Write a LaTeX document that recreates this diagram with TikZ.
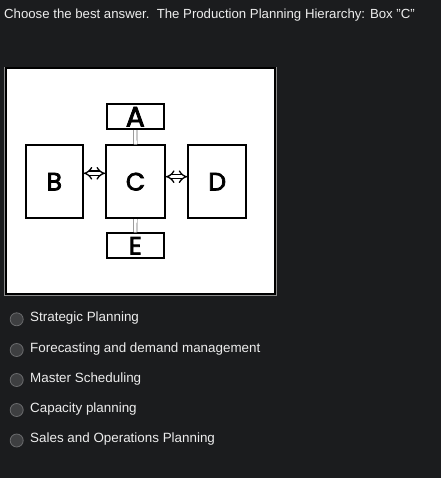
\documentclass[tikz,border=0pt]{standalone}
\usepackage{fontspec}
\setmainfont{Liberation Sans}
\newfontfamily\boxfont[FakeBold=3]{Poppins}
\usetikzlibrary{arrows.meta}
\definecolor{bgdark}{HTML}{1B1C1E}
\definecolor{txtlight}{HTML}{EDEDED}
\definecolor{radiofill}{HTML}{3E3F41}
\definecolor{radioline}{HTML}{6A6B6D}
\definecolor{framegray}{HTML}{8A8A8A}
\tikzset{
  x=1pt, y=-1pt,
  lbox/.style={draw=black, line width=1.7pt, fill=white, inner sep=0pt, font=\boxfont\fontsize{25}{25}\selectfont},
  dblarrow/.style={draw=black, line width=1.3pt, double=white, double distance=3pt, {Implies[length=4.5pt]}-{Implies[length=4.5pt]}},
  vlink/.style={draw=black!60, line width=0.7pt, double=white, double distance=2.6pt},
  radio/.style={circle, draw=radioline, fill=radiofill, line width=0.8pt, minimum size=13pt, inner sep=0pt},
  opt/.style={anchor=west, text=txtlight, font=\fontsize{13.4}{13.4}\selectfont, inner sep=0pt},
}
\begin{document}
\begin{tikzpicture}
\fill[bgdark] (0,0) rectangle (441,478);
\useasboundingbox (0,0) rectangle (441,478);
\node[opt, font=\fontsize{13.2}{13.2}\selectfont] (title) at (4,15) {Choose the best answer.\ \ The Production Planning Hierarchy: Box \char"22 C\char"22};
% frame
\draw[framegray, line width=0.6pt] (4.5,67.3) rectangle (276.7,295);
\draw[black, line width=2pt, fill=white] (6,68.5) rectangle (275,294);
% boxes
\node[lbox, minimum width=57pt, minimum height=25pt] (A) at (135.3,116.7) {\raisebox{-1.5pt}{\fontsize{28}{28}\selectfont A}};
\node[lbox, minimum width=59pt, minimum height=73pt] (C) at (135.5,181.7) {C};
\node[lbox, minimum width=57pt, minimum height=73pt] (B) at (54.3,181.7) {B};
\node[lbox, minimum width=58pt, minimum height=73pt] (D) at (217.2,181.7) {D};
\node[lbox, minimum width=57pt, minimum height=25pt] (E) at (135.3,245.8) {\raisebox{-1pt}{E}};
% connectors
\draw[vlink] (A.south) -- (C.north);
\draw[vlink] (C.south) -- (E.north);
\draw[dblarrow] (B.east |- 0,173.3) -- (C.west |- 0,173.3);
\draw[dblarrow] (C.east |- 0,176.7) -- (D.west |- 0,176.7);
% options
\node[radio] (r1) at (16.7,319.3) {};
\node[radio] (r2) at (16.7,350) {};
\node[radio] (r3) at (16.7,380) {};
\node[radio] (r4) at (16.7,410) {};
\node[radio] (r5) at (16.7,440.5) {};
\node[opt] (o1) at (30,318) {Strategic Planning};
\node[opt] (o2) at (30,349) {Forecasting and demand management};
\node[opt] (o3) at (30,379) {Master Scheduling};
\node[opt] (o4) at (30,409) {Capacity planning};
\node[opt] (o5) at (30,439.5) {Sales and Operations Planning};
\end{tikzpicture}
\end{document}
